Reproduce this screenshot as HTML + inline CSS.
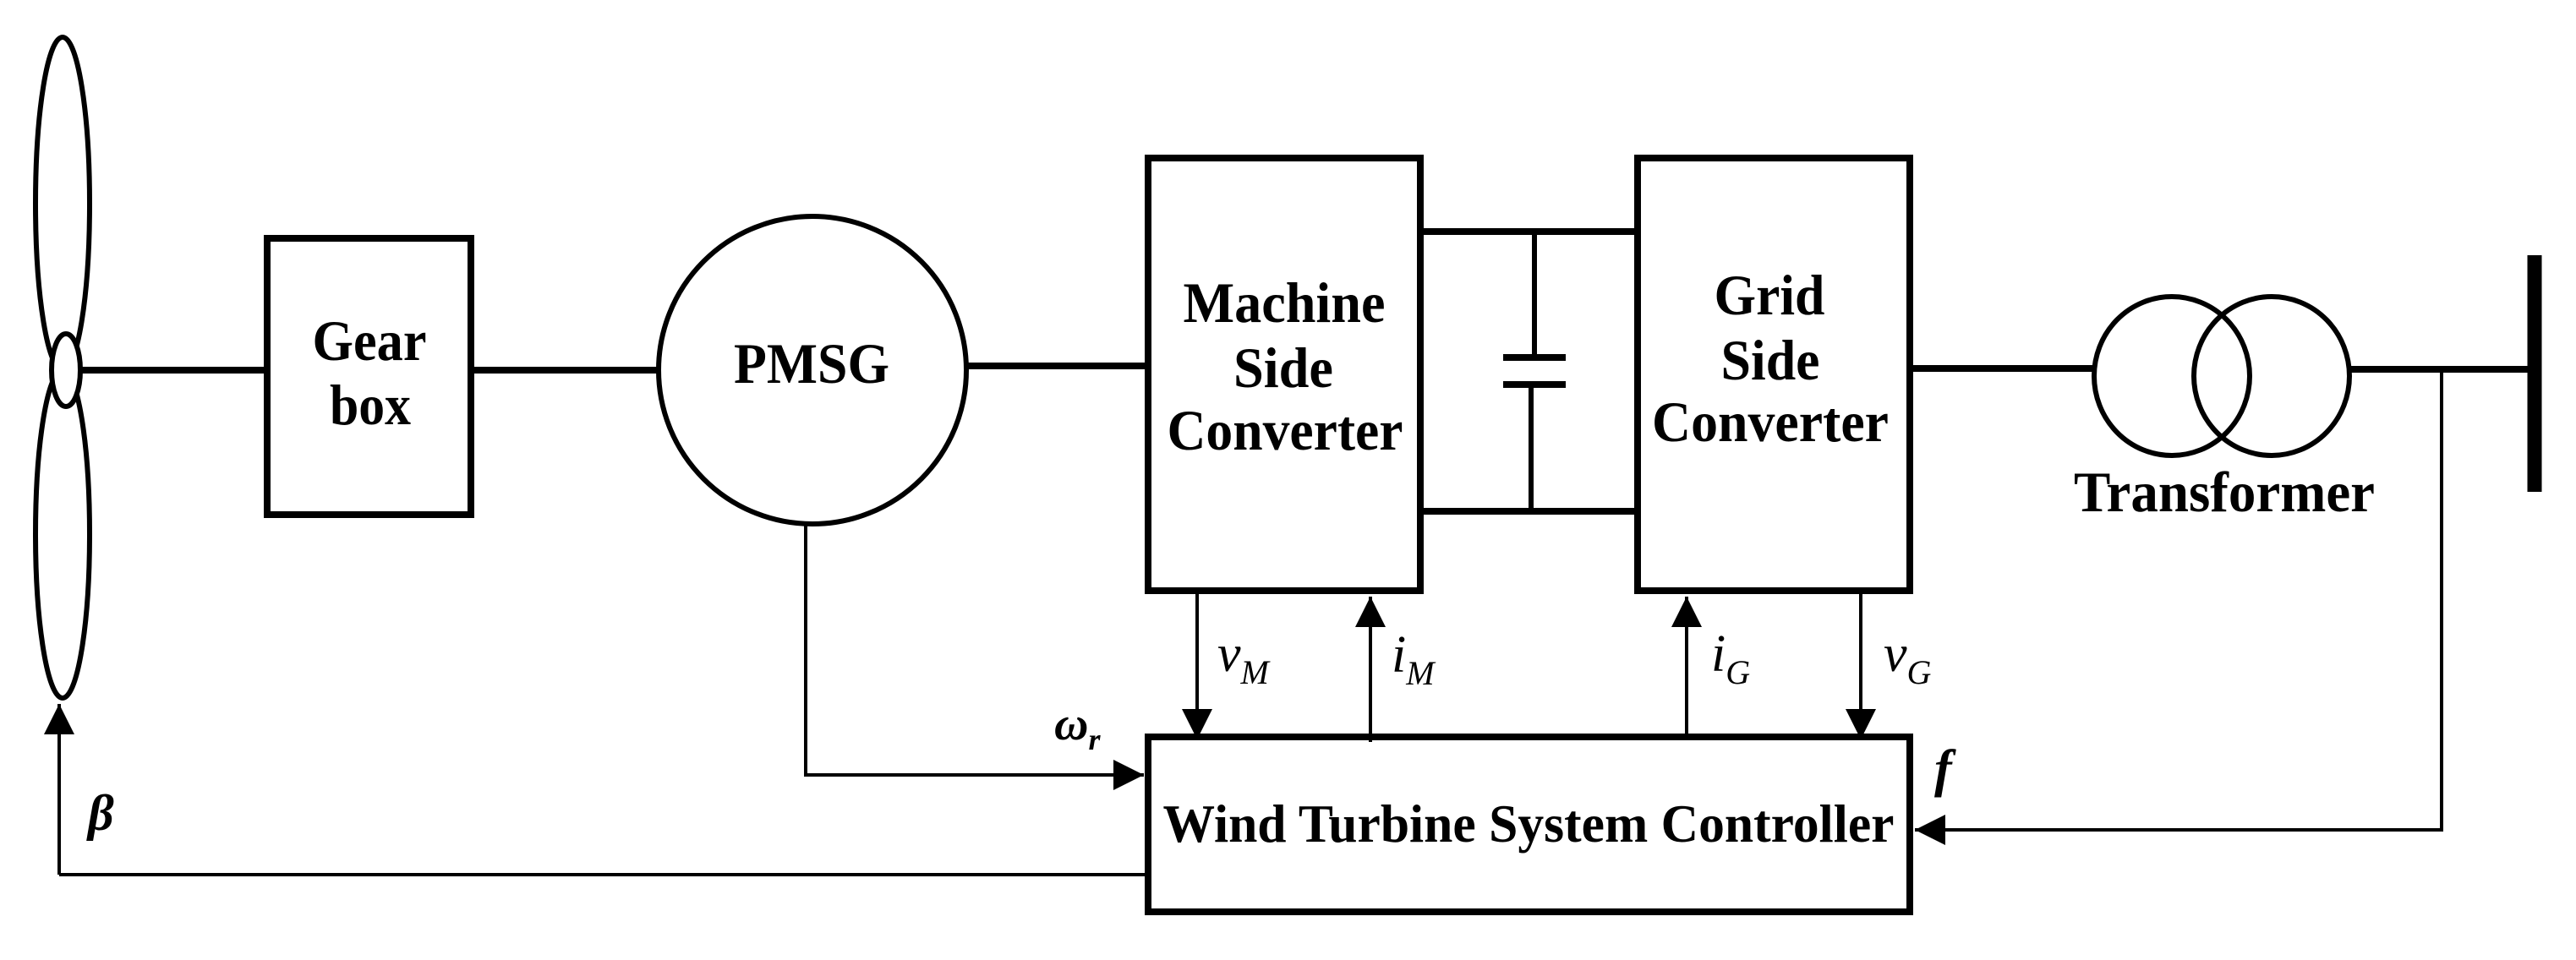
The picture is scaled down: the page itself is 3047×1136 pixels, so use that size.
<!DOCTYPE html>
<html><head><meta charset="utf-8"><style>html,body{margin:0;padding:0;background:#fff}svg{display:block}</style></head><body>
<svg width="3047" height="1136" viewBox="0 0 3047 1136" xmlns="http://www.w3.org/2000/svg">
<defs>
<marker id="ah" viewBox="0 0 10 10" refX="10" refY="5" markerWidth="36" markerHeight="38" markerUnits="userSpaceOnUse" orient="auto"><path d="M0,0 L10,5 L0,10 z" fill="#000"/></marker>
</defs>
<g fill="none" stroke="#000">
<ellipse cx="74" cy="241" rx="32" ry="197" stroke-width="6"/>
<ellipse cx="74" cy="632" rx="32" ry="194" stroke-width="6"/>
<ellipse cx="78" cy="438" rx="17" ry="43" stroke-width="6" fill="#fff"/>
<line x1="95" y1="438" x2="312" y2="438" stroke-width="8"/>
<line x1="561" y1="438" x2="778" y2="438" stroke-width="8"/>
<line x1="1144" y1="433" x2="1358" y2="433" stroke-width="8"/>
<rect x="316" y="282" width="241" height="327" stroke-width="8"/>
<circle cx="961" cy="438" r="182" stroke-width="6"/>
<rect x="1358" y="187" width="322" height="512" stroke-width="8"/>
<rect x="1937" y="187" width="322" height="512" stroke-width="8"/>
<line x1="1680" y1="274" x2="1937" y2="274" stroke-width="8"/>
<line x1="1680" y1="605" x2="1937" y2="605" stroke-width="8"/>
<line x1="1815" y1="274" x2="1815" y2="420" stroke-width="6"/>
<line x1="1811" y1="456" x2="1811" y2="605" stroke-width="6"/>
<line x1="1778" y1="423" x2="1852" y2="423" stroke-width="8"/>
<line x1="1778" y1="455" x2="1852" y2="455" stroke-width="8"/>
<line x1="2259" y1="436" x2="2476" y2="436" stroke-width="8"/>
<ellipse cx="2569" cy="445" rx="92" ry="94" stroke-width="6"/>
<ellipse cx="2687" cy="445" rx="92" ry="94" stroke-width="6"/>
<line x1="2779" y1="437" x2="2995" y2="437" stroke-width="8"/>
<line x1="2998" y1="302" x2="2998" y2="582" stroke-width="17"/>
<rect x="1358" y="872" width="901" height="207" stroke-width="8"/>
<g stroke-width="4">
<polyline points="70,1035 1354,1035"/>
<line x1="70" y1="1035" x2="70" y2="833" marker-end="url(#ah)"/>
<polyline points="953,622 953,917 1353,917" marker-end="url(#ah)"/>
<polyline points="2888,438 2888,982 2265,982" marker-end="url(#ah)"/>
<line x1="1416" y1="703" x2="1416" y2="875" marker-end="url(#ah)"/>
<line x1="1621" y1="878" x2="1621" y2="706" marker-end="url(#ah)"/>
<line x1="1995" y1="868" x2="1995" y2="706" marker-end="url(#ah)"/>
<line x1="2201" y1="703" x2="2201" y2="875" marker-end="url(#ah)"/>
</g>
</g>
<g font-family="'Liberation Serif', serif" font-weight="bold" font-size="68" fill="#000" text-anchor="middle">
<text x="437" y="426" textLength="135" lengthAdjust="spacingAndGlyphs">Gear</text>
<text x="438" y="502" textLength="96" lengthAdjust="spacingAndGlyphs">box</text>
<text x="960" y="453" textLength="184" lengthAdjust="spacingAndGlyphs">PMSG</text>
<text x="1519" y="381" textLength="239" lengthAdjust="spacingAndGlyphs">Machine</text>
<text x="1518" y="458" textLength="118" lengthAdjust="spacingAndGlyphs">Side</text>
<text x="1520" y="532" textLength="279" lengthAdjust="spacingAndGlyphs">Converter</text>
<text x="2093" y="372" textLength="131" lengthAdjust="spacingAndGlyphs">Grid</text>
<text x="2094" y="449" textLength="117" lengthAdjust="spacingAndGlyphs">Side</text>
<text x="2094" y="522" textLength="280" lengthAdjust="spacingAndGlyphs">Converter</text>
<text x="2631" y="605" textLength="356" lengthAdjust="spacingAndGlyphs">Transformer</text>
<text x="1808" y="996" font-size="64" textLength="865" lengthAdjust="spacingAndGlyphs">Wind Turbine System Controller</text>
</g>
<g font-family="'Liberation Serif', serif" font-style="italic" fill="#000" font-size="62">
<text x="1440" y="794">v<tspan font-size="40" dy="15">M</tspan></text>
<text x="1646" y="795">i<tspan font-size="40" dy="15">M</tspan></text>
<text x="2024" y="794">i<tspan font-size="40" dy="15">G</tspan></text>
<text x="2228" y="794">v<tspan font-size="40" dy="15">G</tspan></text>
<text x="1247" y="875" font-weight="bold" font-size="56">ω<tspan font-size="36" dy="12">r</tspan></text>
<text x="2288" y="930" font-weight="bold" font-size="62">f</text>
<text x="104" y="982" font-weight="bold" font-size="60">β</text>
</g>
</svg>
</body></html>
